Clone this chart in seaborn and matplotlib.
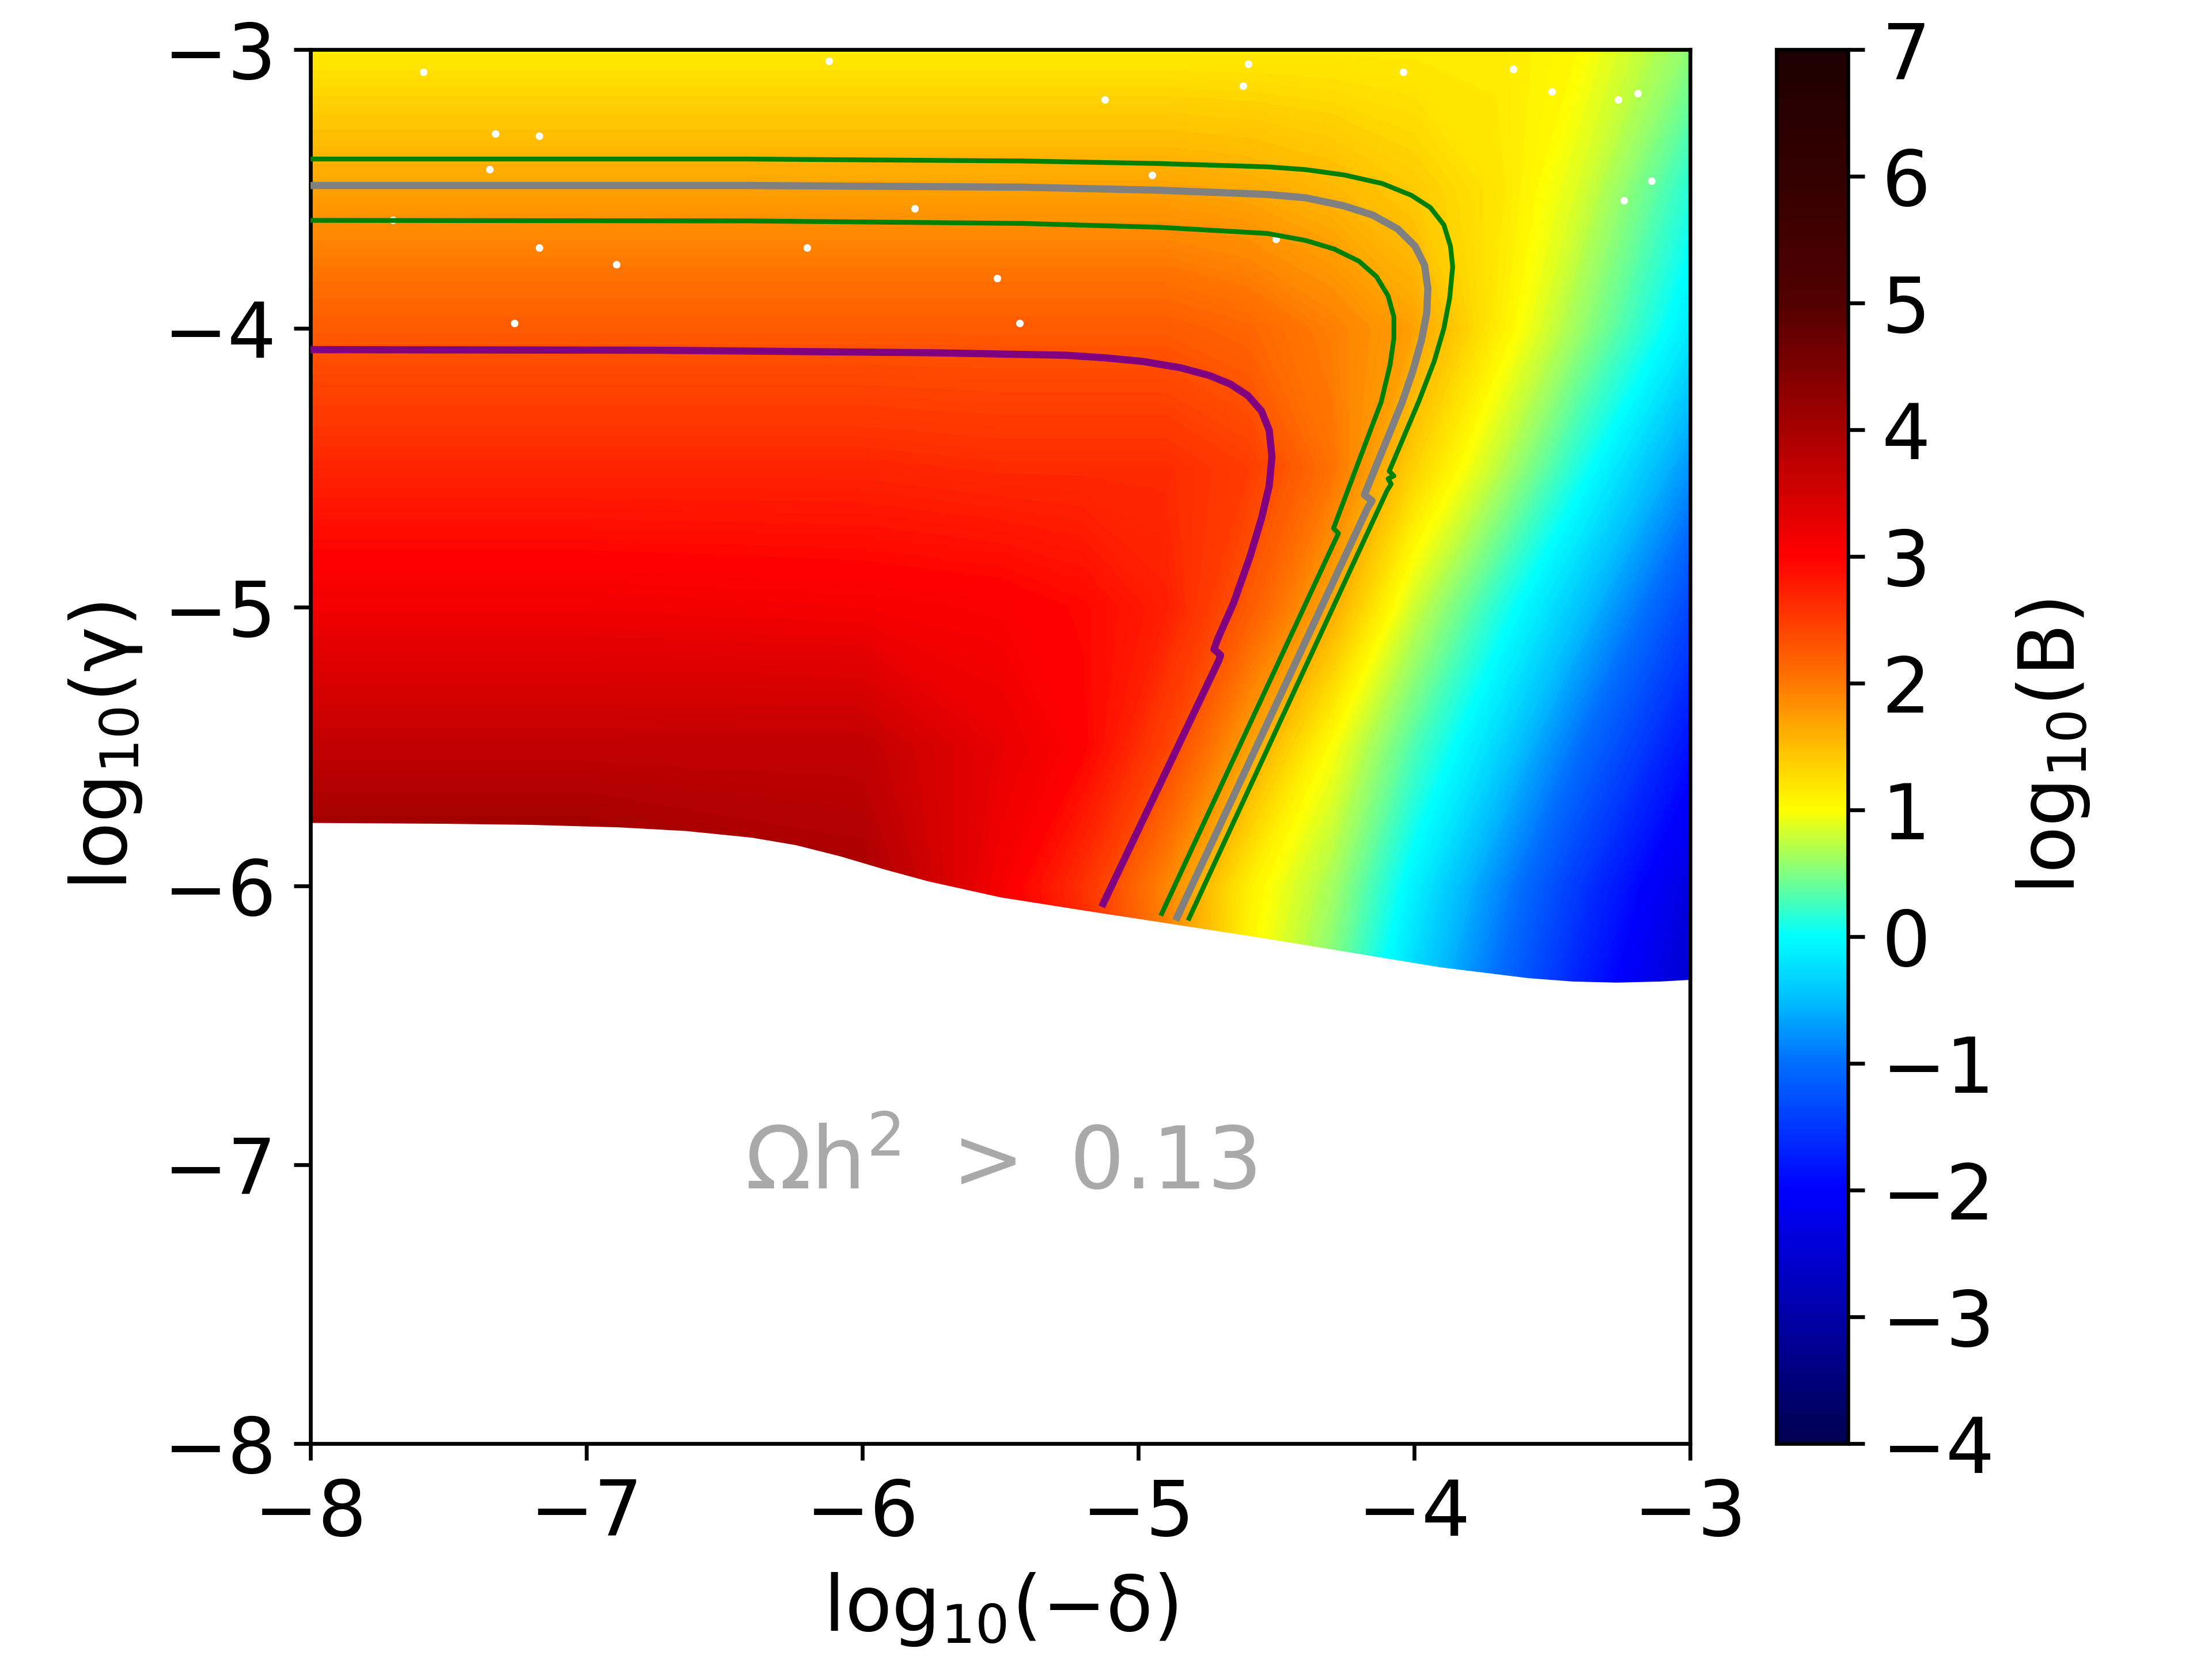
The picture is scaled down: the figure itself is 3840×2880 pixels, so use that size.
import numpy as np
import seaborn as sns
import matplotlib.pyplot as plt
from matplotlib.cm import ScalarMappable
from matplotlib.colors import LinearSegmentedColormap, Normalize

# log10(B) on a coarse grid
grid_x = [-8, -7, -6, -5.5, -5.2, -4.9, -4.6, -4.3, -4.0, -3.7, -3.4, -3.0]
grid_y = [-3, -3.5, -4, -4.5, -5, -5.5, -6, -6.5]
row_30 = [1.15, 1.15, 1.15, 1.15, 1.15, 1.15, 1.15, 1.15, 1.15, 1.15, 1.03, 0.55]
row_35 = [1.7, 1.7, 1.7, 1.7, 1.7, 1.7, 1.65, 1.55, 1.4, 1.2, 0.85, 0.15]
row_40 = [2.25, 2.25, 2.25, 2.25, 2.25, 2.25, 2.15, 1.95, 1.7, 1.15, 0.6, -0.15]
row_45 = [2.7, 2.7, 2.7, 2.65, 2.65, 2.65, 2.5, 2.05, 1.35, 0.75, 0.1, -0.75]
row_50 = [3.15, 3.15, 3.1, 3.05, 2.95, 2.75, 2.25, 1.65, 0.8, 0.15, -0.45, -1.35]
row_55 = [3.7, 3.7, 3.7, 3.25, 3.0, 2.45, 1.7, 1.0, 0.3, -0.3, -1.0, -1.85]
row_60 = [4.3, 4.3, 4.0, 3.1, 2.6, 1.9, 1.12, 0.65, -0.1, -0.8, -1.5, -2.35]
row_65 = [4.7, 4.7, 4.3, 3.4, 2.8, 2.0, 1.0, 0.4, -0.4, -1.1, -1.8, -2.6]

# lower edge of the coloured region
edge_x = [-8, -7.52, -7.20, -6.88, -6.64, -6.40, -6.24, -6.08, -5.92, -5.76, -5.50, -5.18, -4.864, -4.545, -4.225, -3.906, -3.586, -3.426, -3.267, -3.107, -3]
edge_y = [-5.773, -5.776, -5.78, -5.789, -5.802, -5.826, -5.853, -5.893, -5.94, -5.983, -6.04, -6.09, -6.138, -6.187, -6.239, -6.291, -6.33, -6.342, -6.346, -6.342, -6.336]

purple_x = [-8, -6.752, -5.753, -5.263, -5.124, -4.985, -4.846, -4.741, -4.665, -4.602, -4.553, -4.525, -4.515, -4.525, -4.553, -4.595, -4.654, -4.712, -4.725, -4.701, -4.707, -5.132]
purple_y = [-4.076, -4.078, -4.087, -4.096, -4.105, -4.118, -4.141, -4.169, -4.2, -4.241, -4.296, -4.365, -4.461, -4.565, -4.682, -4.82, -4.985, -5.115, -5.151, -5.172, -5.19, -6.075]

upper_x = [-8, -6.419, -5.42, -4.93, -4.532, -4.393, -4.254, -4.115, -4.010, -3.941, -3.892, -3.868, -3.860, -3.871, -3.892, -3.927, -3.983, -4.09, -4.073, -4.094, -4.083, -4.098, -4.819]
upper_y = [-3.392, -3.392, -3.399, -3.408, -3.42, -3.43, -3.449, -3.48, -3.522, -3.566, -3.628, -3.705, -3.779, -3.891, -4.0, -4.118, -4.262, -4.512, -4.529, -4.539, -4.558, -4.582, -6.124]

grey_x = [-8, -6.419, -5.42, -4.921, -4.532, -4.393, -4.254, -4.150, -4.059, -3.996, -3.962, -3.950, -3.954, -3.973, -4.004, -4.042, -4.18, -4.152, -4.169, -4.864]
grey_y = [-3.487, -3.487, -3.493, -3.504, -3.519, -3.531, -3.56, -3.593, -3.643, -3.705, -3.773, -3.856, -3.945, -4.042, -4.151, -4.262, -4.597, -4.618, -4.645, -6.124]

lower_x = [-8, -6.419, -5.42, -4.921, -4.532, -4.393, -4.289, -4.199, -4.136, -4.094, -4.073, -4.073, -4.087, -4.119, -4.292, -4.274, -4.287, -4.918]
lower_y = [-3.612, -3.614, -3.623, -3.637, -3.659, -3.684, -3.715, -3.759, -3.814, -3.883, -3.959, -4.035, -4.131, -4.263, -4.717, -4.735, -4.762, -6.107]

# small holes in the scan
hole_x = [-7.59, -7.33, -7.17, -7.35, -4.95, -5.81, -6.89, -5.51, -3.50, -4.60, -7.70, -3.26, -3.19, -4.62, -5.12, -6.12, -3.64, -4.04, -7.17, -6.2, -4.5, -7.26, -5.43, -3.14, -3.24]
hole_y = [-3.08, -3.30, -3.31, -3.43, -3.45, -3.57, -3.77, -3.82, -3.15, -3.05, -3.61, -3.18, -3.157, -3.13, -3.18, -3.04, -3.07, -3.08, -3.71, -3.71, -3.68, -3.98, -3.98, -3.47, -3.54]

cbar_ticks = [-4, -3, -2, -1, 0, 1, 2, 3, 4, 5, 6, 7]
axis_ticks_x = [-8, -7, -6, -5, -4, -3]
axis_ticks_y = [-8, -7, -6, -5, -4, -3]

cmap_values = [-4, -3, -2, -1, -0.5, 0, 0.5, 1, 1.5, 2, 3, 4, 5, 6, 7]
cmap_colors = ['#000050', '#0000a8', '#0000ff', '#006eff', '#00beff', '#00ffff', '#80ff80', '#ffff00',
               '#ffbe00', '#ff7800', '#ff0000', '#a80000', '#520000', '#340000', '#1e0000']

sns.set_theme(style="ticks", rc={
    'axes.edgecolor': 'black',
    'axes.linewidth': 0.8,
    'xtick.major.size': 3.5,
    'ytick.major.size': 3.5,
    'xtick.major.width': 0.8,
    'ytick.major.width': 0.8,
    'xtick.color': 'black',
    'ytick.color': 'black',
    'axes.labelcolor': 'black',
    'text.color': 'black',
    'mathtext.default': 'regular',
    'lines.solid_capstyle': 'butt',
})
plt.rcParams['font.family'] = ['DejaVu Sans']

fig = plt.figure(figsize=(6.4, 4.8), dpi=600)
ax = fig.add_axes([0.1403, 0.130, 0.6237, 0.840])
cax = fig.add_axes([0.8030, 0.130, 0.0325, 0.840])

field = np.array([row_30, row_35, row_40, row_45, row_50, row_55, row_60, row_65])
positions = [(v - cmap_values[0]) / (cmap_values[-1] - cmap_values[0]) for v in cmap_values]
cmap = LinearSegmentedColormap.from_list('jet_hot', list(zip(positions, cmap_colors)), N=512)
norm = Normalize(vmin=-4, vmax=7)

ax.contourf(grid_x, grid_y, field, levels=np.linspace(-4, 7, 331), cmap=cmap, norm=norm, antialiased=False)
ax.fill_between(edge_x, edge_y, -8, color='white', linewidth=0, zorder=2)

sns.scatterplot(x=hole_x, y=hole_y, color='white', s=2.5, linewidth=0, marker='o', ax=ax, zorder=3, legend=False)

sns.lineplot(x=upper_x, y=upper_y, sort=False, estimator=None, color='green', linewidth=1, ax=ax, zorder=4)
sns.lineplot(x=lower_x, y=lower_y, sort=False, estimator=None, color='green', linewidth=1, ax=ax, zorder=4)
sns.lineplot(x=grey_x, y=grey_y, sort=False, estimator=None, color='grey', linewidth=1.5, ax=ax, zorder=4)
sns.lineplot(x=purple_x, y=purple_y, sort=False, estimator=None, color='purple', linewidth=1.5, ax=ax, zorder=4)

ax.set_xlim(-8, -3)
ax.set_ylim(-8, -3)
ax.set_xticks(axis_ticks_x)
ax.set_yticks(axis_ticks_y)
ax.tick_params(labelsize=16)
ax.set_xlabel(r'$log_{10}(-\delta)$', fontsize=16, labelpad=4)
ax.set_ylabel(r'$log_{10}(\gamma)$', fontsize=16, labelpad=4)
ax.text(-5.5, -7.0, r'$\Omega h^2\ >\ 0.13$', color='darkgrey', fontsize=18, ha='center', va='center')

cbar = fig.colorbar(ScalarMappable(norm=norm, cmap=cmap), cax=cax, ticks=cbar_ticks)
cbar.ax.tick_params(labelsize=16)
cbar.set_label(r'$log_{10}(B)$', fontsize=16, labelpad=4)

fig.savefig('out.png', dpi=600)
